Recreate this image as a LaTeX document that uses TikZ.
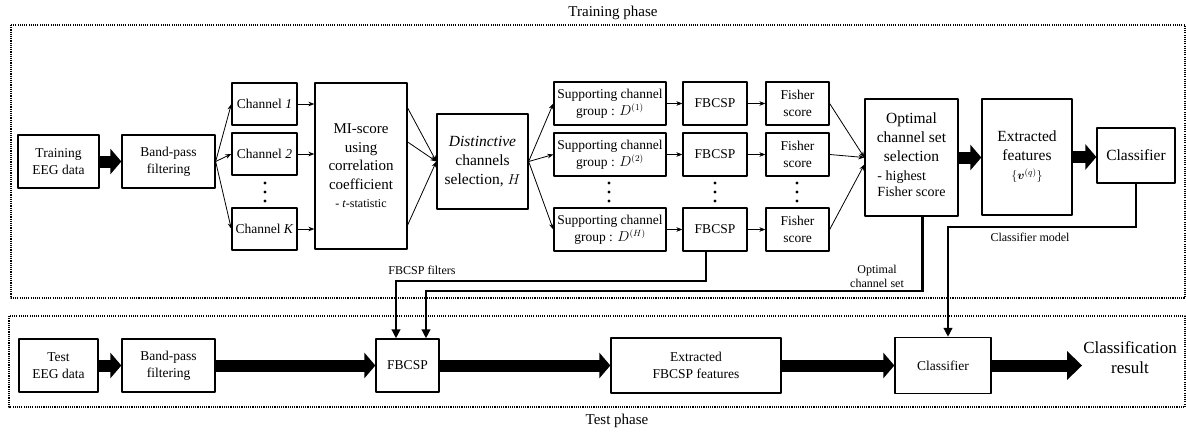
\documentclass[tikz,border=0pt]{standalone}
\usepackage{fontspec}
\setmainfont{Liberation Serif}
\usepackage{bm}
\usetikzlibrary{arrows.meta}

\begin{document}
\begin{tikzpicture}[x=1pt,y=-1pt,>={Stealth[length=6pt,width=4.6pt]},line cap=round,line join=round,
  box/.style={draw,line width=1.3pt,inner sep=2pt,align=center,font=\fontsize{13.5}{17}\selectfont},
  big/.style={box,font=\fontsize{15.5}{19}\selectfont},
  arr/.style={->,line width=0.8pt},
  fat/.style={line width=12pt,line cap=butt,-{Triangle[length=11pt,width=25pt]}},
  link/.style={line width=2.6pt,line join=miter,-{Triangle[length=9pt,width=8.5pt]}},
  phase/.style={line width=1.1pt,line cap=butt,dash pattern=on 1.1pt off 1.1pt},
  lbl/.style={font=\fontsize{12}{14}\selectfont,align=center,inner sep=1pt}]
\useasboundingbox (0,0) rectangle (1186,432);
% phase frames
\draw[phase] (11,25) rectangle (1185,298);
\draw[phase] (9,316) rectangle (1185,407);
\node[font=\fontsize{15}{17}\selectfont] (trn) at (613,13) {Training phase};
\node[font=\fontsize{15}{17}\selectfont] (tst) at (617,421) {Test phase};
% training row
\node[box,minimum width=81,minimum height=53] (tr) at (58.5,161.5) {Training\\EEG data};
\node[box,minimum width=93,minimum height=53] (bp) at (168.5,161.5) {Band-pass\\filtering};
\node[box,minimum width=65,minimum height=42] (ch1) at (264.5,104) {Channel \textit{1}};
\node[box,minimum width=65,minimum height=42] (ch2) at (264.5,154) {Channel \textit{2}};
\node[box,minimum width=65,minimum height=42] (chK) at (264.5,229) {Channel \textit{K}};
\node[box,minimum width=92,minimum height=166,font=\fontsize{15}{18.5}\selectfont] (mi) at (361,166) {MI-score\\using\\correlation\\coefficient\\{\fontsize{12}{14}\selectfont - \textit{t}-statistic}};
\node[big,minimum width=91,minimum height=95] (dis) at (482.5,161.5) {\textit{Distinctive}\\channels\\selection, $H$};
\node[box,minimum width=112,minimum height=43] (sg1) at (610,103.5) {Supporting channel\\group : $D^{(1)}$};
\node[box,minimum width=112,minimum height=43] (sg2) at (610,154.5) {Supporting channel\\group : $D^{(2)}$};
\node[box,minimum width=112,minimum height=43] (sgH) at (610,229.5) {Supporting channel\\group : $D^{(H)}$};
\node[box,minimum width=64,minimum height=43] (fb1) at (715,103.5) {FBCSP};
\node[box,minimum width=64,minimum height=43] (fb2) at (715,154.5) {FBCSP};
\node[box,minimum width=64,minimum height=43] (fbH) at (715,229.5) {FBCSP};
\node[box,minimum width=63,minimum height=43] (fs1) at (797.5,103.5) {Fisher\\score};
\node[box,minimum width=63,minimum height=43] (fs2) at (797.5,154.5) {Fisher\\score};
\node[box,minimum width=63,minimum height=43] (fsH) at (797.5,229.5) {Fisher\\score};
\node[big,minimum width=93,minimum height=117] (opt) at (911.5,157.5) {Optimal\\channel set\\selection\\{\fontsize{14}{16}\selectfont\begin{tabular}[t]{@{}l@{}}- highest\\Fisher score\end{tabular}}};
\node[big,minimum width=90,minimum height=116] (ext) at (1027,157) {Extracted\\features\\{\fontsize{13}{16}\selectfont$\{\bm{v}^{(q)}\}$}};
\node[big,minimum width=78,minimum height=55] (cls) at (1136,155.5) {Classifier};
% dots
\foreach \x in {265,609,715,797}
  \foreach \y in {183,192,201}
    \fill (\x,\y) circle (1.7pt);
% training connectors
\draw[fat] (tr.east) -- (bp.west);
\draw[arr] (bp.east) -- (ch1.west);
\draw[arr] (bp.east) -- (ch2.west);
\draw[arr] (bp.east) -- (chK.west);
\draw[arr] (ch1.east) -- (ch1.east -| mi.west);
\draw[arr] (ch2.east) -- (ch2.east -| mi.west);
\draw[arr] (chK.east) -- (chK.east -| mi.west);
\draw[arr] ([yshift=58]mi.east) -- (dis.west);
\draw[arr] ([yshift=24]mi.east) -- (dis.west);
\draw[arr] ([yshift=-59]mi.east) -- (dis.west);
\draw[arr] (dis.east) -- (sg1.west);
\draw[arr] (dis.east) -- (sg2.west);
\draw[arr] (dis.east) -- (sgH.west);
\draw[arr] (sg1.east) -- (fb1.west);
\draw[arr] (sg2.east) -- (fb2.west);
\draw[arr] (sgH.east) -- (fbH.west);
\draw[arr] (fb1.east) -- (fs1.west);
\draw[arr] (fb2.east) -- (fs2.west);
\draw[arr] (fbH.east) -- (fsH.west);
\draw[arr] (fs1.east) -- (opt.west);
\draw[arr] (fs2.east) -- (opt.west);
\draw[arr] (fsH.east) -- ([yshift=-7]opt.west);
\draw[fat] (opt.east) -- (opt.east -| ext.west);
\draw[fat] (ext.east) -- (ext.east -| cls.west);
% test row
\node[box,minimum width=79,minimum height=53] (tt) at (58.5,365.5) {Test\\EEG data};
\node[box,minimum width=93,minimum height=53] (tbp) at (168.5,365.5) {Band-pass\\filtering};
\node[box,minimum width=63,minimum height=53] (tfb) at (407.5,365.5) {FBCSP};
\node[box,minimum width=170,minimum height=55] (tex) at (696,365.5) {Extracted\\FBCSP features};
\node[box,minimum width=96,minimum height=56] (tcl) at (943,365.5) {Classifier};
\node[align=center,inner sep=1pt,font=\fontsize{17}{20}\selectfont] (res) at (1130,358) {Classification\\result};
\draw[fat] (tt.east) -- (tbp.west);
\draw[fat] (tbp.east) -- (tfb.west);
\draw[fat] (tfb.east) -- (tex.west);
\draw[fat] (tex.east) -- (tcl.west);
\draw[fat,-{Triangle[length=15pt,width=28pt]}] (tcl.east) -- (tcl.east -| res.west);
% links between phases
\coordinate (fk) at (396,281);
\coordinate (ok) at (426,291);
\coordinate (ck) at (948,227);
\draw[link] ([xshift=-9]fbH.south) |- (fk) -- (fk |- tfb.north);
\draw[link] ([xshift=11]opt.south) |- (ok) -- (ok |- tfb.north);
\draw[link] (cls.south) |- (ck) -- (ck |- tcl.north);
\node[lbl] (fl) at (422,270) {FBCSP filters};
\node[lbl] (ol) at (877,276) {Optimal\\channel set};
\node[lbl] (cl) at (1030,237) {Classifier model};
\end{tikzpicture}
\end{document}
